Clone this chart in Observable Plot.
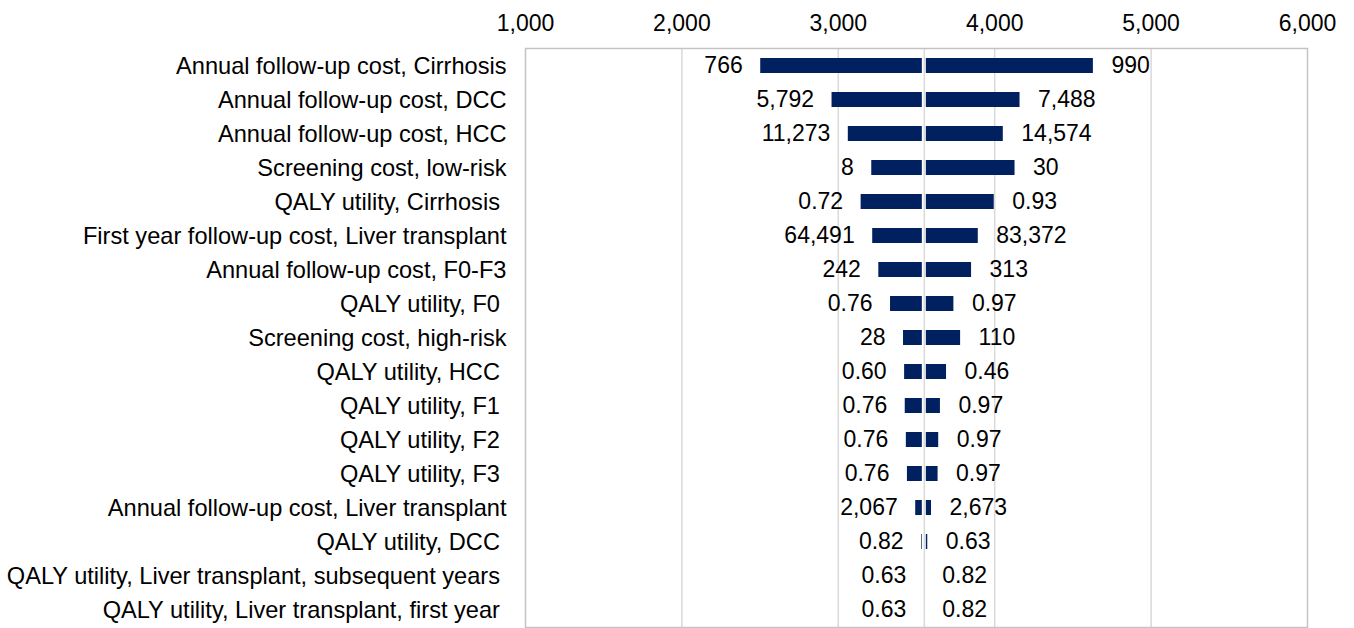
<!DOCTYPE html>
<html><head><meta charset="utf-8">
<script src="https://cdn.jsdelivr.net/npm/d3@7"></script>
<script src="https://cdn.jsdelivr.net/npm/@observablehq/plot@0.6"></script>
<style>body{margin:0;background:#fff} svg{display:block}</style>
</head><body><div id="chart"></div>
<script>
const parameters = [
  "Annual follow-up cost, Cirrhosis",
  "Annual follow-up cost, DCC",
  "Annual follow-up cost, HCC",
  "Screening cost, low-risk",
  "QALY utility, Cirrhosis\u00a0",
  "First year follow-up cost, Liver transplant",
  "Annual follow-up cost, F0-F3",
  "QALY utility, F0\u00a0",
  "Screening cost, high-risk",
  "QALY utility, HCC\u00a0",
  "QALY utility, F1\u00a0",
  "QALY utility, F2\u00a0",
  "QALY utility, F3\u00a0",
  "Annual follow-up cost, Liver transplant",
  "QALY utility, DCC\u00a0",
  "QALY utility, Liver transplant, subsequent years\u00a0",
  "QALY utility, Liver transplant, first year\u00a0"
];
const lowLabels  = ["766","5,792","11,273","8","0.72","64,491","242","0.76","28","0.60","0.76","0.76","0.76","2,067","0.82","0.63","0.63"];
const highLabels = ["990","7,488","14,574","30","0.93","83,372","313","0.97","110","0.46","0.97","0.97","0.97","2,673","0.63","0.82","0.82"];
const lowICER  = [2504,2960,3064,3214,3146,3220,3259,3334,3417,3424,3428,3435,3442,3495,3533,3550,3550];
const highICER = [4631,4162,4055,4130,3997,3895,3852,3739,3782,3692,3653,3642,3638,3596,3572,3550,3550];
const baseICER = 3550;
const xTicks = [1000,2000,3000,4000,5000,6000];
const gridTicks = [2000,3000,4000,5000];

const rows = parameters.map((p,i)=>({parameter:p, low:lowICER[i], high:highICER[i], lowLabel:lowLabels[i], highLabel:highLabels[i], base:baseICER}));

const chart = Plot.plot({
  width:1354, height:628,
  marginLeft:525, marginRight:47, marginTop:48, marginBottom:1,
  style:{fontFamily:'"Liberation Sans", Arial, sans-serif', fontSize:"23px", color:"#000", background:"#fff"},
  x:{domain:[1000,6000]},
  y:{domain:parameters, paddingInner:0.56, paddingOuter:0.28},
  marks:[
    Plot.ruleX(gridTicks,{stroke:"#d9d9d9", strokeWidth:1.5}),
    Plot.ruleX([baseICER],{stroke:"#d9d9d9", strokeWidth:1.5}),
    Plot.frame({stroke:"#c4c4c4", strokeWidth:1.5}),
    Plot.barX(rows.filter(d=>d.low<d.base),{x1:"low", x2:"base", y:"parameter", fill:"#002060", insetRight:2}),
    Plot.barX(rows.filter(d=>d.high>d.base),{x1:"base", x2:"high", y:"parameter", fill:"#002060", insetLeft:2}),
    Plot.text(rows,{x:"low", y:"parameter", text:"lowLabel", textAnchor:"end", dx:-18, fontSize:23, fill:"#000"}),
    Plot.text(rows,{x:"high", y:"parameter", text:"highLabel", textAnchor:"start", dx:18, fontSize:23, fill:"#000"}),
    Plot.axisX(xTicks,{anchor:"top", tickSize:0, tickPadding:18, tickFormat:d3.format(","), fontSize:23, label:null}),
    Plot.axisY({tickSize:0, tickPadding:19, fontSize:23.6, label:null})
  ]
});
document.getElementById("chart").append(chart);
</script>
</body></html>
